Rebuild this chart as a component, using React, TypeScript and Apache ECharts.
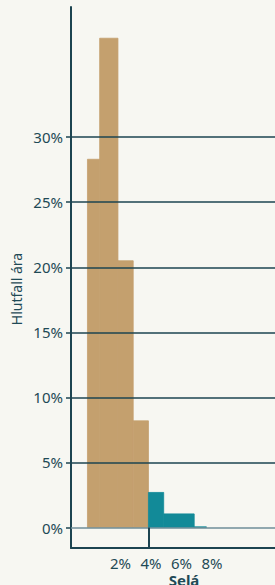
import React, { useEffect, useRef } from "react";
import * as echarts from "echarts";

// Histogram bins (percent of selá) and share of years (%)
const binStart = [0, 0.8, 2, 3, 4, 5, 7];
const binEnd = [0.8, 2, 3, 4, 5, 7, 7.8];
const shareOfYears = [28.3, 37.6, 20.5, 8.2, 2.7, 1.05, 0.06];
const threshold = 4;
const yTicks = [0, 5, 10, 15, 20, 25, 30];
const xTicks = [2, 4, 6, 8];

const TAN = "#c4a06e";
const TEAL = "#128a98";
const INK = "#1c4450";
const TEXT = "#1f4a56";
const BG = "#f7f7f2";
const FONT = "'Noto Sans', 'Open Sans', sans-serif";

export default function App() {
  const ref = useRef<HTMLDivElement>(null);
  useEffect(() => {
    document.body.style.margin = "0";
    document.body.style.background = BG;
    const chart = echarts.init(ref.current!, null, { renderer: "svg" });
    const data = binStart.map((s, i) => ({
      value: [s, binEnd[i], shareOfYears[i]],
      itemStyle: { color: s >= threshold ? TEAL : TAN },
    }));
    chart.setOption({
      animation: false,
      backgroundColor: BG,
      grid: { left: 71, right: 0, top: 7, bottom: 37, containLabel: false },
      xAxis: {
        type: "value",
        min: -1.08,
        max: 12.3,
        splitLine: { show: false },
        axisLine: { show: true, onZero: false, lineStyle: { color: INK, width: 2 } },
        axisTick: { show: false },
        axisLabel: {
          customValues: xTicks,
          formatter: (v: number) => `${v}%`,
          color: TEXT,
          fontSize: 15,
          fontFamily: FONT,
          margin: 7,
          padding: [0, 0, 0, 5],
        },
      },
      yAxis: {
        type: "value",
        min: -1.57,
        max: 40,
        splitLine: { show: false },
        axisLine: { show: true, onZero: false, lineStyle: { color: INK, width: 2 } },
        axisTick: { show: true, customValues: yTicks, length: 5, lineStyle: { color: INK, width: 1.5 } },
        axisLabel: {
          customValues: yTicks,
          formatter: (v: number) => `${v}%`,
          color: TEXT,
          fontSize: 15,
          fontFamily: FONT,
          margin: 8,
        },
      },
      graphic: [
        {
          type: "text",
          x: 16,
          y: 289,
          rotation: Math.PI / 2,
          style: {
            text: "Hlutfall ára",
            fill: TEXT,
            font: `14px ${FONT}`,
            textAlign: "center",
            textVerticalAlign: "middle",
          },
        },
        {
          type: "text",
          x: 184,
          y: 580,
          style: {
            text: "Selá",
            fill: TEXT,
            font: `bold 15px ${FONT}`,
            textAlign: "center",
            textVerticalAlign: "middle",
          },
        },
      ],
      series: [
        {
          type: "line",
          data: [],
          z: 1,
          markLine: {
            silent: true,
            symbol: "none",
            label: { show: false },
            data: yTicks.map((v) => ({
              yAxis: v,
              lineStyle: { color: v === 0 ? "#6f8e98" : INK, width: 1.5, type: "solid" },
            })),
          },
        },
        {
          type: "custom",
          z: 2,
          encode: { x: [0, 1], y: 2 },
          renderItem: (params: any, api: any) => {
            const x0 = api.value(0);
            const x1 = api.value(1);
            const y = api.value(2);
            const p0 = api.coord([x0, y]);
            const p1 = api.coord([x1, 0]);
            const c = api.visual("color");
            return {
              type: "rect",
              shape: { x: p0[0], y: p0[1], width: p1[0] - p0[0], height: p1[1] - p0[1] },
              style: { fill: c, stroke: c, lineWidth: 0.8 },
            };
          },
          data,
          markLine: {
            silent: true,
            symbol: "none",
            label: { show: false },
            lineStyle: { color: INK, width: 2, type: "solid" },
            data: [[{ coord: [threshold, 0] }, { coord: [threshold, -1.57] }]],
          },
        },
      ],
    });
    return () => chart.dispose();
  }, []);
  return <div ref={ref} style={{ width: 275, height: 585, background: BG }} />;
}
